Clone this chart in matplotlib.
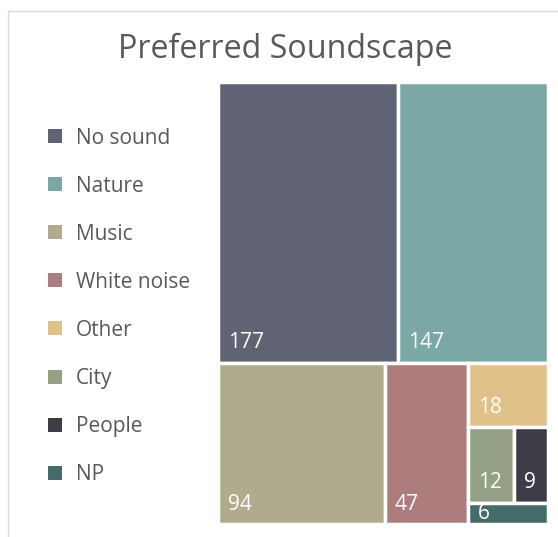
import matplotlib.pyplot as plt
from matplotlib.patches import Rectangle

# survey answers
categories = ["No sound", "Nature", "Music", "White noise", "Other", "City", "People", "NP"]
counts = [177, 147, 94, 47, 18, 12, 9, 6]
colors = ["#5f6374", "#7ba8a4", "#b0ab8c", "#ad7d7e", "#e0c18a", "#93a084", "#3d3d48", "#456c69"]

W, H = 558, 537
plt.rcParams['font.family'] = ['Open Sans', 'DejaVu Sans']


def worst(row, side):
    # worst aspect ratio of a strip laid along `side`
    thick = sum(row) / side
    r = 1.0
    for a in row:
        length = a / thick
        r = max(r, thick / length, length / thick)
    return r


def squarify(values, x, y, w, h, tol=1.2):
    total = float(sum(values))
    areas = [v * w * h / total for v in values]
    rects = []
    i = 0
    while i < len(areas):
        side = min(w, h)
        row = [areas[i]]
        i += 1
        while i < len(areas) and worst(row + [areas[i]], side) <= worst(row, side) * tol:
            row.append(areas[i])
            i += 1
        thick = sum(row) / side
        if w <= h:
            cx = x
            for a in row:
                rects.append((cx, y, a / thick, thick))
                cx += a / thick
            y += thick
            h -= thick
        else:
            cy = y
            for a in row:
                rects.append((x, cy, thick, a / thick))
                cy += a / thick
            x += thick
            w -= thick
    return rects


fig = plt.figure(figsize=(W / 100, H / 100), dpi=100)
ax = fig.add_axes([0, 0, 1, 1])
ax.set_xlim(0, W)
ax.set_ylim(H, 0)
ax.axis('off')

# chart frame
ax.add_patch(Rectangle((7.5, 10.5), 600, 600, fill=False, edgecolor="#d9d9d9", lw=1))

ax.text(285, 58.5, "Preferred Soundscape", ha='center', va='baseline',
        fontsize=23.2, color="#595959")

rects = squarify(counts, 218, 82, 330, 442)
for (x, y, w, h), v, c in zip(rects, counts, colors):
    box = Rectangle((x, y), w, h, facecolor=c, edgecolor="white", lw=2.5)
    ax.add_patch(box)
    if h > 40:
        t = ax.text(x + 10, y + h - 14.5, str(v), ha='left', va='baseline',
                    fontsize=15, color="white")
    else:
        t = ax.text(x + 10, y, str(v), ha='left', va='top',
                    fontsize=15, color="white")
    t.set_clip_path(box)

# legend
for i, (name, c) in enumerate(zip(categories, colors)):
    cy = 136 + i * 48.1
    ax.add_patch(Rectangle((48, cy - 7), 14, 14, facecolor=c, edgecolor="none"))
    ax.text(76, cy + 7.5, name, ha='left', va='baseline', fontsize=15, color="#595959")

fig.savefig("out.png", dpi=100)
